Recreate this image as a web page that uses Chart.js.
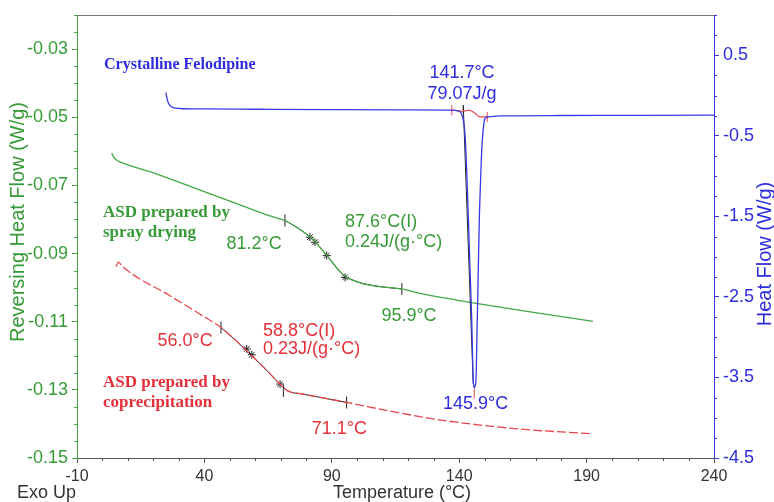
<!DOCTYPE html>
<html><head><meta charset="utf-8">
<script src="https://cdn.jsdelivr.net/npm/chart.js@4/dist/chart.umd.min.js"></script>
<style>html,body{margin:0;padding:0;background:#fff}#wrap{width:774px;height:502px;position:relative}</style>
</head><body><div id="wrap"><canvas id="c"></canvas></div>
<script>
// ---- tick labels ----
const xTicks = [-10, 40, 90, 140, 190, 240];
const leftTicks = [-0.15, -0.13, -0.11, -0.09, -0.07, -0.05, -0.03];
const rightTicks = [-4.5, -3.5, -2.5, -1.5, -0.5, 0.5];

// ---- Crystalline Felodipine : Heat Flow (W/g) vs T ----
const felodipineT  = [24.9, 25.2, 25.7, 26.5, 27.7, 30.4, 38.3, 60, 90, 120, 136.4, 139.5, 140.6, 141.3, 141.8, 142.3, 142.9, 143.6, 144.3, 144.9, 145.5, 145.9, 146.3, 146.6, 147.1, 147.5, 147.9, 148.4, 148.8, 149.3, 150.1, 151.4, 156, 180, 210, 240];
const felodipineHF = [0.038, -0.02, -0.079, -0.126, -0.149, -0.161, -0.166, -0.170, -0.175, -0.178, -0.182, -0.19, -0.21, -0.26, -0.34, -0.49, -0.90, -1.53, -2.20, -2.77, -3.52, -3.63, -3.60, -3.52, -2.77, -2.15, -1.53, -1.05, -0.70, -0.46, -0.285, -0.266, -0.253, -0.248, -0.245, -0.244];
// melting analysis
const meltBaseT  = [137.1, 139, 141, 142.5, 143.6, 145, 146.2, 147.3, 148.2, 151.0];
const meltBaseHF = [-0.182, -0.186, -0.195, -0.19, -0.182, -0.195, -0.22, -0.25, -0.266, -0.266];
const meltOnsetT  = [141.6, 145.5];
const meltOnsetHF = [-0.12, -3.58];
const meltLimitT  = [137.1, 151.0];
const meltLimitHF = [-0.182, -0.266];
const meltPeakT  = [145.9];
const meltPeakHF = [-3.70];

// ---- ASD spray drying : Reversing Heat Flow (W/g) ----
const sprayT   = [3.6, 4.4, 5.4, 6.8, 20, 35.2, 50, 65, 71.6, 76.2, 82.2, 88.1, 93.2, 95.6, 98.5, 102.2, 108.9, 117.5, 124.6, 144.2, 167.8, 192.5];
const sprayRHF = [-0.0605, -0.0617, -0.0625, -0.0631, -0.0663, -0.0705, -0.0746, -0.0788, -0.0803, -0.0823, -0.0856, -0.0906, -0.0953, -0.0969, -0.0979, -0.0988, -0.0997, -0.1004, -0.1017, -0.1043, -0.1071, -0.1099];
const sprayFitT   = [71.6, 76.2, 82.2, 88.1, 93.2, 95.6, 98.5, 102.2, 108.9, 117.5];
const sprayFitRHF = [-0.0803, -0.0823, -0.0856, -0.0906, -0.0953, -0.0969, -0.0979, -0.0988, -0.0997, -0.1004];
const sprayLimitT   = [71.6, 117.5];
const sprayLimitRHF = [-0.0803, -0.1004];
const sprayMarkT   = [81.4, 83.4, 88.0, 95.2];
const sprayMarkRHF = [-0.0852, -0.0867, -0.0906, -0.0970];

// ---- ASD coprecipitation : Reversing Heat Flow (W/g) ----
const coprecT   = [5.3, 6.3, 7.7, 26.5, 38.3, 46.5, 52, 57.2, 63.8, 70.3, 71.5, 73.6, 77.5, 95.9, 116.8, 135.1, 163.9, 192];
const coprecRHF = [-0.0938, -0.0925, -0.0937, -0.1024, -0.1078, -0.1117, -0.1153, -0.1190, -0.1238, -0.1288, -0.1297, -0.1306, -0.1311, -0.1337, -0.1368, -0.1391, -0.1415, -0.1429];
const coprecFitT   = [46.5, 52, 57.2, 63.8, 70.3, 73.6, 77.5, 95.9];
const coprecFitRHF = [-0.1117, -0.1153, -0.1190, -0.1238, -0.1288, -0.1306, -0.1311, -0.1337];
const coprecLimitT   = [46.5, 71.0, 95.8];
const coprecLimitRHF = [-0.1117, -0.1303, -0.1337];
const coprecMarkT   = [56.6, 58.6, 69.7];
const coprecMarkRHF = [-0.1180, -0.1197, -0.1283];

// ---- colours ----
const BLUE = '#3838e8', BLUE_TXT = '#2d2de0';
const GREEN = '#45a845', GREEN_TXT = '#369a36';
const RED = '#e8474c', RED_TXT = '#e5303a';
const GREY = '#555555';

const pts = (xs, ys) => xs.map((x, i) => ({x, y: ys[i]}));

// ---- annotation texts (positions in data units of x / left axis) ----
const SANS = "'Liberation Sans', Arial, sans-serif";
const SERIF = "'Liberation Serif', 'Times New Roman', serif";
const notes = [
  {t: 'Crystalline Felodipine', x: 0.6, y: -0.0347, c: BLUE_TXT, f: 'bold 16px ' + SERIF, a: 'left'},
  {t: '141.7°C', x: 141.1, y: -0.0371, c: BLUE_TXT, f: '18px ' + SANS, a: 'center'},
  {t: '79.07J/g', x: 141.1, y: -0.0432, c: BLUE_TXT, f: '18px ' + SANS, a: 'center'},
  {t: 'ASD prepared by', x: 0.2, y: -0.0779, c: GREEN_TXT, f: 'bold 17px ' + SERIF, a: 'left'},
  {t: 'spray drying', x: 0.2, y: -0.0838, c: GREEN_TXT, f: 'bold 17px ' + SERIF, a: 'left'},
  {t: '81.2°C', x: 59.5, y: -0.0871, c: GREEN_TXT, f: '18px ' + SANS, a: 'center'},
  {t: '87.6°C(I)', x: 95.2, y: -0.0809, c: GREEN_TXT, f: '18px ' + SANS, a: 'left'},
  {t: '0.24J/(g·°C)', x: 95.2, y: -0.0865, c: GREEN_TXT, f: '18px ' + SANS, a: 'left'},
  {t: '95.9°C', x: 120.3, y: -0.1082, c: GREEN_TXT, f: '18px ' + SANS, a: 'center'},
  {t: '56.0°C', x: 32.4, y: -0.1156, c: RED_TXT, f: '18px ' + SANS, a: 'center'},
  {t: '58.8°C(I)', x: 63, y: -0.1126, c: RED_TXT, f: '18px ' + SANS, a: 'left'},
  {t: '0.23J/(g·°C)', x: 63, y: -0.1179, c: RED_TXT, f: '18px ' + SANS, a: 'left'},
  {t: 'ASD prepared by', x: 0.2, y: -0.1279, c: RED_TXT, f: 'bold 17px ' + SERIF, a: 'left'},
  {t: 'coprecipitation', x: 0.2, y: -0.1338, c: RED_TXT, f: 'bold 17px ' + SERIF, a: 'left'},
  {t: '71.1°C', x: 93, y: -0.1415, c: RED_TXT, f: '18px ' + SANS, a: 'center'},
  {t: '145.9°C', x: 146.4, y: -0.1341, c: BLUE_TXT, f: '18px ' + SANS, a: 'center'}
];

const X_MINOR = 10, L_MINOR = 0.005, R_MINOR = 0.25;

const extras = {
  id: 'extras',
  afterDraw(chart) {
    const {ctx, chartArea: a, scales} = chart;
    ctx.save();
    // top frame line
    ctx.strokeStyle = '#777'; ctx.lineWidth = 1;
    ctx.beginPath(); ctx.moveTo(a.left, a.top + 0.5); ctx.lineTo(a.right, a.top + 0.5); ctx.stroke();
    // minor ticks
    const near = (v, arr) => arr.some(m => Math.abs(m - v) < 1e-9);
    ctx.strokeStyle = GREY;
    for (let v = -10; v <= 240 + 1e-9; v += X_MINOR) {
      if (near(v, xTicks)) continue;
      const p = Math.round(scales.x.getPixelForValue(v)) + 0.5;
      ctx.beginPath(); ctx.moveTo(p, a.bottom); ctx.lineTo(p, a.bottom + 3); ctx.stroke();
    }
    ctx.strokeStyle = GREEN;
    for (let i = 0; i <= 26; i++) {
      const v = -0.15 + i * L_MINOR;
      if (near(Math.round(v * 1000) / 1000, leftTicks)) continue;
      const p = Math.round(scales.yL.getPixelForValue(v)) + 0.5;
      ctx.beginPath(); ctx.moveTo(a.left - 3, p); ctx.lineTo(a.left, p); ctx.stroke();
    }
    ctx.strokeStyle = BLUE;
    for (let i = 0; i <= 22; i++) {
      const v = -4.5 + i * R_MINOR;
      if (near(v, rightTicks)) continue;
      const p = Math.round(scales.yR.getPixelForValue(v)) + 0.5;
      ctx.beginPath(); ctx.moveTo(a.right, p); ctx.lineTo(a.right + 3, p); ctx.stroke();
    }
    // annotation texts
    ctx.textBaseline = 'middle';
    notes.forEach(n => {
      ctx.font = n.f; ctx.fillStyle = n.c; ctx.textAlign = n.a;
      ctx.fillText(n.t, scales.x.getPixelForValue(n.x), scales.yL.getPixelForValue(n.y));
    });
    // axis titles
    ctx.textAlign = 'center';
    ctx.font = '20px ' + SANS;
    ctx.fillStyle = GREEN_TXT;
    ctx.save(); ctx.translate(18, 222); ctx.rotate(-Math.PI / 2); ctx.fillText('Reversing Heat Flow (W/g)', 0, 0); ctx.restore();
    ctx.fillStyle = BLUE_TXT;
    ctx.save(); ctx.translate(765, 254); ctx.rotate(-Math.PI / 2); ctx.fillText('Heat Flow (W/g)', 0, 0); ctx.restore();
    ctx.font = '18px ' + SANS; ctx.fillStyle = '#333';
    ctx.fillText('Temperature (°C)', 402, 493);
    // Exo Up
    ctx.textAlign = 'left';
    ctx.fillText('Exo Up', 17, 493);
    ctx.restore();
  }
};

const lineDs = (label, data, axis, color, extra) => Object.assign({
  label, data: data, yAxisID: axis, borderColor: color, borderWidth: 1.3,
  pointRadius: 0, fill: false, cubicInterpolationMode: 'monotone'
}, extra || {});
const markDs = (label, data, axis, color, style, radius, rot) => ({
  label, data, yAxisID: axis, showLine: false, pointStyle: style, pointRadius: radius,
  pointRotation: rot || 0, borderColor: color, backgroundColor: color, pointBorderWidth: 1
});

new Chart(document.getElementById('c'), {
  type: 'line',
  data: {
    datasets: [
      lineDs('Crystalline Felodipine', pts(felodipineT, felodipineHF), 'yR', BLUE),
      lineDs('melt baseline', pts(meltBaseT, meltBaseHF), 'yR', RED, {borderWidth: 1.2}),
      lineDs('melt onset', pts(meltOnsetT, meltOnsetHF), 'yR', '#222', {borderWidth: 1, cubicInterpolationMode: 'default', tension: 0}),
      markDs('melt limits', pts(meltLimitT, meltLimitHF), 'yR', RED, 'line', 5, 90),
      markDs('melt onset mark', pts([141.6], [-0.17]), 'yR', '#222', 'line', 4, 90),
      markDs('melt peak', pts(meltPeakT, meltPeakHF), 'yR', RED, 'line', 5, 90),

      lineDs('ASD spray drying', pts(sprayT, sprayRHF), 'yL', GREEN),
      lineDs('spray analysis', pts(sprayFitT, sprayFitRHF), 'yL', '#222', {borderWidth: 1}),
      markDs('spray limits', pts(sprayLimitT, sprayLimitRHF), 'yL', '#222', 'line', 6, 90),
      markDs('spray marks', pts(sprayMarkT, sprayMarkRHF), 'yL', '#222', 'star', 4),

      lineDs('ASD coprecipitation', pts(coprecT, coprecRHF), 'yL', RED, {borderDash: [9, 3]}),
      lineDs('coprec analysis', pts(coprecFitT, coprecFitRHF), 'yL', '#222', {borderWidth: 1}),
      markDs('coprec limits', pts(coprecLimitT, coprecLimitRHF), 'yL', '#222', 'line', 6, 90),
      markDs('coprec marks', pts(coprecMarkT, coprecMarkRHF), 'yL', '#222', 'star', 4)
    ]
  },
  options: {
    responsive: true, maintainAspectRatio: false, animation: false,
    layout: {padding: {top: 15, left: 0, right: 0, bottom: 0}},
    plugins: {legend: {display: false}, tooltip: {enabled: false}},
    scales: {
      x: {
        type: 'linear', position: 'bottom', min: -10, max: 240,
        afterBuildTicks: s => { s.ticks = xTicks.map(v => ({value: v})); },
        afterFit: s => { s.height = 44; },
        ticks: {color: '#333', font: {size: 16, family: SANS}, padding: 4, maxRotation: 0, callback: v => String(v)},
        grid: {drawOnChartArea: false, tickLength: 5, tickColor: GREY},
        border: {color: GREY},
        title: {display: false}
      },
      yL: {
        type: 'linear', position: 'left', min: -0.15, max: -0.02, bounds: 'data',
        afterBuildTicks: s => { s.ticks = leftTicks.map(v => ({value: v})); },
        afterFit: s => { s.width = 77; },
        ticks: {color: GREEN_TXT, font: {size: 18, family: SANS}, padding: 4, callback: v => Number(v).toFixed(2)},
        grid: {drawOnChartArea: false, tickLength: 5, tickColor: GREEN},
        border: {color: GREEN},
        title: {display: false}
      },
      yR: {
        type: 'linear', position: 'right', min: -4.5, max: 1.0, bounds: 'data',
        afterBuildTicks: s => { s.ticks = rightTicks.map(v => ({value: v})); },
        afterFit: s => { s.width = 60; },
        ticks: {color: BLUE_TXT, font: {size: 18, family: SANS}, padding: 4, callback: v => Number(v).toFixed(1)},
        grid: {drawOnChartArea: false, tickLength: 5, tickColor: BLUE},
        border: {color: BLUE},
        title: {display: false}
      }
    }
  },
  plugins: [extras]
});
</script>
</body></html>
